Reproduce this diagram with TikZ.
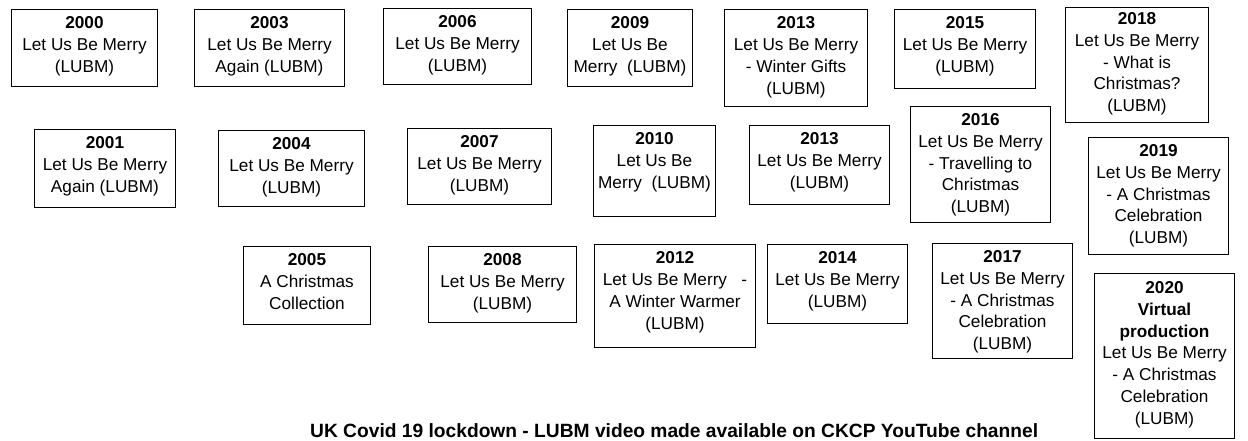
\documentclass[tikz,border=0pt]{standalone}
\usepackage{fontspec}
\setmainfont{Liberation Sans}
\usepackage{tikz}

\tikzset{
  yearbox/.style={draw, line width=1pt, anchor=north west, inner sep=0pt},
  yeartext/.style={anchor=north, align=center, inner sep=0pt, font=\fontsize{17.2}{21.9}\selectfont},
}

\begin{document}
\begin{tikzpicture}[x=1pt,y=-1pt]
\useasboundingbox (0,0) rectangle (1248,441);
% top row
\node[yearbox, minimum width=146pt, minimum height=77pt] (b2000) at (11,9) {};
\node[yeartext] (t2000) at ([yshift=-7.5pt]b2000.north) {\textbf{2000}\\Let Us Be Merry\\(LUBM)};
\node[yearbox, minimum width=150pt, minimum height=77pt] (b2003) at (194,9) {};
\node[yeartext] (t2003) at ([yshift=-7.5pt]b2003.north) {\textbf{2003}\\Let Us Be Merry\\Again (LUBM)};
\node[yearbox, minimum width=148pt, minimum height=76pt] (b2006) at (383,8) {};
\node[yeartext] (t2006) at ([yshift=-7.5pt]b2006.north) {\textbf{2006}\\Let Us Be Merry\\(LUBM)};
\node[yearbox, minimum width=125pt, minimum height=77pt] (b2009) at (567,9) {};
\node[yeartext] (t2009) at ([yshift=-7.5pt]b2009.north) {\textbf{2009}\\Let Us Be\\Merry\ \ (LUBM)};
\node[yearbox, minimum width=143pt, minimum height=97pt] (b2013a) at (724,9) {};
\node[yeartext] (t2013a) at ([yshift=-7.5pt]b2013a.north) {\textbf{2013}\\Let Us Be Merry\\- Winter Gifts\\(LUBM)};
\node[yearbox, minimum width=141pt, minimum height=79pt] (b2015) at (894,9) {};
\node[yeartext] (t2015) at ([yshift=-7.5pt]b2015.north) {\textbf{2015}\\Let Us Be Merry\\(LUBM)};
\node[yearbox, minimum width=143pt, minimum height=115pt] (b2018) at (1065,7) {};
\node[yeartext] (t2018) at ([yshift=-5pt]b2018.north) {\textbf{2018}\\Let Us Be Merry\\- What is\\Christmas?\\(LUBM)};
% middle row
\node[yearbox, minimum width=141pt, minimum height=78pt] (b2001) at (34,129) {};
\node[yeartext] (t2001) at ([yshift=-7.5pt]b2001.north) {\textbf{2001}\\Let Us Be Merry\\Again (LUBM)};
\node[yearbox, minimum width=146pt, minimum height=76pt] (b2004) at (218,130) {};
\node[yeartext] (t2004) at ([yshift=-7.5pt]b2004.north) {\textbf{2004}\\Let Us Be Merry\\(LUBM)};
\node[yearbox, minimum width=144pt, minimum height=76pt] (b2007) at (407,128) {};
\node[yeartext] (t2007) at ([yshift=-7.5pt]b2007.north) {\textbf{2007}\\Let Us Be Merry\\(LUBM)};
\node[yearbox, minimum width=122pt, minimum height=91pt] (b2010) at (593,125) {};
\node[yeartext] (t2010) at ([yshift=-7.5pt]b2010.north) {\textbf{2010}\\Let Us Be\\Merry\ \ (LUBM)};
\node[yearbox, minimum width=140pt, minimum height=79pt] (b2013b) at (749,125) {};
\node[yeartext] (t2013b) at ([yshift=-7.5pt]b2013b.north) {\textbf{2013}\\Let Us Be Merry\\(LUBM)};
\node[yearbox, minimum width=140pt, minimum height=116pt] (b2016) at (910,106) {};
\node[yeartext] (t2016) at ([yshift=-7pt]b2016.north) {\textbf{2016}\\Let Us Be Merry\\- Travelling to\\Christmas\\(LUBM)};
\node[yearbox, minimum width=140pt, minimum height=117pt] (b2019) at (1088,137) {};
\node[yeartext] (t2019) at ([yshift=-7pt]b2019.north) {\textbf{2019}\\Let Us Be Merry\\- A Christmas\\Celebration\\(LUBM)};
% bottom row
\node[yearbox, minimum width=127pt, minimum height=78pt] (b2005) at (243,246) {};
\node[yeartext] (t2005) at ([yshift=-7.5pt]b2005.north) {\textbf{2005}\\A Christmas\\Collection};
\node[yearbox, minimum width=148pt, minimum height=76pt] (b2008) at (428,246) {};
\node[yeartext] (t2008) at ([yshift=-7.5pt]b2008.north) {\textbf{2008}\\Let Us Be Merry\\(LUBM)};
\node[yearbox, minimum width=161pt, minimum height=103pt] (b2012) at (594,244) {};
\node[yeartext] (t2012) at ([yshift=-7.5pt]b2012.north) {\textbf{2012}\\Let Us Be Merry\ \ \ -\\A Winter Warmer\\(LUBM)};
\node[yearbox, minimum width=140pt, minimum height=79pt] (b2014) at (767,244) {};
\node[yeartext] (t2014) at ([yshift=-7.5pt]b2014.north) {\textbf{2014}\\Let Us Be Merry\\(LUBM)};
\node[yearbox, minimum width=140pt, minimum height=115pt] (b2017) at (932,243) {};
\node[yeartext] (t2017) at ([yshift=-7pt]b2017.north) {\textbf{2017}\\Let Us Be Merry\\- A Christmas\\Celebration\\(LUBM)};
\node[yearbox, minimum width=140pt, minimum height=165pt] (b2020) at (1094,273) {};
\node[yeartext] (t2020) at ([yshift=-8pt]b2020.north) {\textbf{2020}\\\textbf{Virtual}\\\textbf{production}\\Let Us Be Merry\\- A Christmas\\Celebration\\(LUBM)};
% footer
\node[anchor=base west, inner sep=0pt, font=\bfseries\fontsize{19.2}{22}\selectfont] (note) at (310,437) {UK Covid 19 lockdown - LUBM video made available on CKCP YouTube channel};
\end{tikzpicture}
\end{document}
